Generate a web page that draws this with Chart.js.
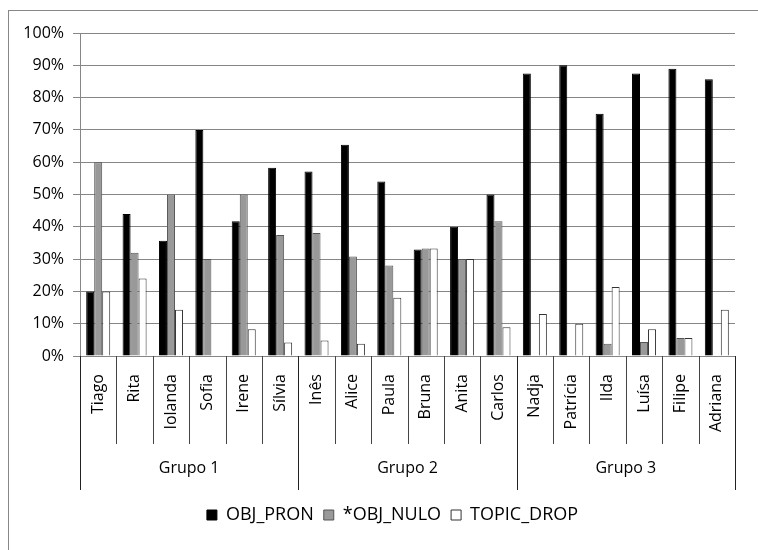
<!DOCTYPE html>
<html>
<head>
<meta charset="utf-8">
<script src="https://cdn.jsdelivr.net/npm/chart.js@4.4.1/dist/chart.umd.min.js"></script>
<style>
  html, body { margin: 0; padding: 0; background: #fff; overflow: hidden; }
  #frame { position: absolute; left: 8px; top: 10px; width: 800px; height: 600px; border: 1px solid #878787; }
  #wrap { position: absolute; left: 0; top: 0; width: 758px; height: 550px; }
</style>
</head>
<body>
<div id="frame"></div>
<div id="wrap"><canvas id="chart" width="758" height="550"></canvas></div>
<script>
// data (percent)
const names = ['Tiago', 'Rita', 'Iolanda', 'Sofia', 'Irene', 'Sílvia',
               'Inês', 'Alice', 'Paula', 'Bruna', 'Anita', 'Carlos',
               'Nadja', 'Patrícia', 'Ilda', 'Luísa', 'Filipe', 'Adriana'];
const groups = ['Grupo 1', 'Grupo 2', 'Grupo 3'];
const groupSizes = [6, 6, 6];
const objPron   = [20, 44, 35.7, 70, 41.7, 58.3, 57.1, 65.4, 54, 33, 40, 50, 87.5, 90, 75, 87.5, 88.9, 85.7];
const objNulo   = [60, 32, 50, 30, 50, 37.5, 38.1, 30.8, 28, 33.3, 30, 41.7, 0, 0, 3.8, 4.3, 5.6, 0];
const topicDrop = [20, 24, 14.3, 0, 8.3, 4.2, 4.8, 3.8, 18, 33.3, 30, 8.9, 13, 10, 21.4, 8.3, 5.6, 14.3];
const yTicks = [0, 10, 20, 30, 40, 50, 60, 70, 80, 90, 100];

Chart.defaults.font.family = "'Open Sans', sans-serif";
Chart.defaults.font.size = 16;
Chart.defaults.color = '#000';

// draws the two-level category table under the x axis
const groupAxis = {
    id: 'groupAxis',
    afterDraw(chart) {
        const ctx = chart.ctx;
        const x = chart.scales.x;
        const y0 = chart.chartArea.bottom;
        const half = (x.getPixelForValue(1) - x.getPixelForValue(0)) / 2;

        const groupEdges = [0];
        groupSizes.forEach(n => groupEdges.push(groupEdges[groupEdges.length - 1] + n));

        ctx.save();
        ctx.lineWidth = 1;
        for (let i = 0; i <= names.length; i++) {
            const px = Math.round(x.getPixelForValue(i) - half) + 0.5;
            const isGroup = groupEdges.includes(i);
            ctx.strokeStyle = isGroup ? '#222' : '#444';
            ctx.beginPath();
            ctx.moveTo(px, y0);
            ctx.lineTo(px, y0 + (isGroup ? 134 : 88));
            ctx.stroke();
        }

        ctx.fillStyle = '#000';
        ctx.font = "16px 'Open Sans', sans-serif";
        ctx.textAlign = 'center';
        ctx.textBaseline = 'middle';
        groups.forEach((g, k) => {
            const a = x.getPixelForValue(groupEdges[k]) - half;
            const b = x.getPixelForValue(groupEdges[k + 1] - 1) + half;
            ctx.fillText(g, (a + b) / 2, y0 + 112);
        });
        ctx.restore();
    }
};

// the original legend sits a bit right of the canvas centre
const legendShift = {
    id: 'legendShift',
    afterLayout(chart) {
        chart.legend.left += 21;
        chart.legend.right += 21;
    }
};

const ctx = document.getElementById('chart').getContext('2d');
new Chart(ctx, {
    type: 'bar',
    data: {
        labels: names,
        datasets: [
            { label: 'OBJ_PRON', data: objPron, backgroundColor: '#000', borderColor: '#000', borderWidth: 1 },
            { label: '*OBJ_NULO', data: objNulo, backgroundColor: '#999', borderColor: '#555', borderWidth: 1 },
            { label: 'TOPIC_DROP', data: topicDrop, backgroundColor: '#fff', borderColor: '#333', borderWidth: 1 }
        ]
    },
    options: {
        responsive: false,
        animation: false,
        devicePixelRatio: 1,
        layout: { padding: { top: 33, left: 8, right: 23, bottom: 16 } },
        datasets: { bar: { categoryPercentage: 0.66, barPercentage: 1 } },
        plugins: {
            legend: {
                position: 'bottom',
                labels: { boxWidth: 10, boxHeight: 10, padding: 10, color: '#000', font: { size: 18 } }
            },
            tooltip: { enabled: false }
        },
        scales: {
            y: {
                min: 0, max: 100,
                afterBuildTicks: s => { s.ticks = yTicks.map(v => ({ value: v })); },
                afterFit: s => { s.width = 72; },
                grid: { color: '#868686', tickLength: 7 },
                border: { color: '#868686' },
                ticks: { padding: 9, callback: v => v + '%' }
            },
            x: {
                afterFit: s => { s.height = 140; },
                grid: { display: false, drawTicks: false },
                border: { display: false },
                ticks: { minRotation: 90, maxRotation: 90, padding: 18, autoSkip: false }
            }
        }
    },
    plugins: [groupAxis, legendShift]
});
</script>
</body>
</html>
